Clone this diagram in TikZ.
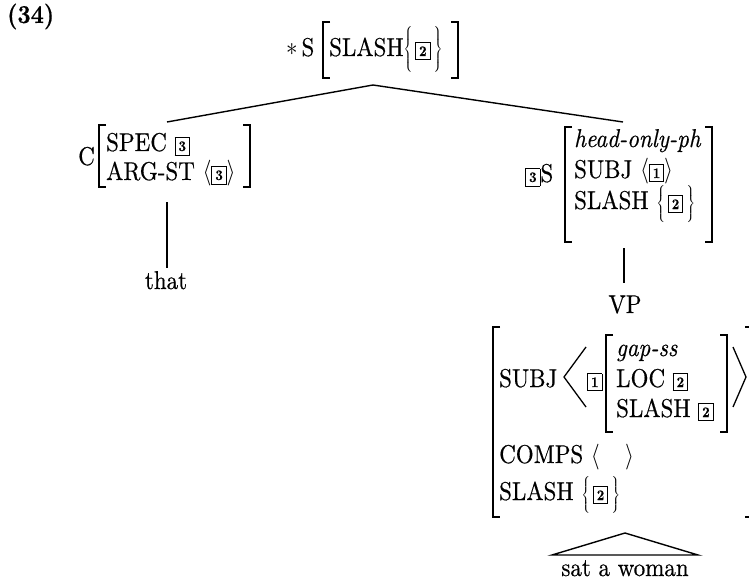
\RequirePackage{fix-cm}
\documentclass[tikz,border=0pt]{standalone}
\usepackage{graphicx}
\usepackage{fontspec}
\setmainfont{lmroman10-regular.otf}[BoldFont=lmroman10-bold.otf, ItalicFont=lmroman10-italic.otf, FakeBold=0.5]
% labels are set slightly tall
\newcommand{\tl}[1]{\scalebox{1}[1.12]{#1}}
% boxed structure-sharing tag
\newcommand{\tg}[1]{{\setlength{\fboxsep}{3pt}\setlength{\fboxrule}{0.9pt}\fbox{\fontsize{13}{13}\selectfont\bfseries #1}}}
% one large brace, squeezed vertically by the factor given
\newcommand{\brc}[2]{\scalebox{1}[#1]{$\left#2\vcenter{\hbox{\rule{0pt}{42pt}}}\right.$}}
\newcommand{\brcr}[2]{\scalebox{1}[#1]{$\left.\vcenter{\hbox{\rule{0pt}{42pt}}}\right#2$}}
% a set: braces around the content
\newcommand{\setof}[2][1]{\brc{#1}{\{}\hspace{1.5pt}#2\hspace{2pt}\brcr{#1}{\}}}
% square brackets of an attribute-value matrix: x, top y, bottom y
\newcommand{\lbr}[3]{\draw[brk] (#1+7,#2) -- (#1,#2) -- (#1,#3) -- (#1+7,#3);}
\newcommand{\rbr}[3]{\draw[brk] (#1-7,#2) -- (#1,#2) -- (#1,#3) -- (#1-7,#3);}
\begin{document}
\begin{tikzpicture}[x=1pt,y=-1pt,
  every node/.style={font=\fontsize{23}{28}\selectfont},
  txt/.style={inner sep=0pt, anchor=base west},
  ctr/.style={inner sep=0pt, anchor=base},
  brk/.style={line width=1.8pt, line join=miter},
  branch/.style={line width=1.4pt},
  angl/.style={line width=1.3pt, line join=miter}]
\useasboundingbox (0,0) rectangle (749,580);

% example number
\node[txt] (num) at (7,23) {\tl{\textbf{(34)}}};

% mother node
\node[txt] (topcat) at (286,56) {\tl{$*$\,S}};
\lbr{323}{22}{78}
\node[txt] (topslash) at (329,56) {\tl{SLASH\setof[0.98]{\tg{2}}}};
\rbr{458}{22}{78}

% complementizer
\node[txt] (ccat) at (78,165) {\tl{C}};
\lbr{99}{125}{187}
\node[txt] (spec) at (106,151) {\tl{SPEC \tg{3}}};
\node[txt] (argst) at (106,180) {\tl{ARG-ST $\langle$\tg{3}$\rangle$}};
\rbr{250}{125}{187}
\node[ctr] (that) at (166,289) {\tl{that}};

% head-only sentence
\node[txt] (stag) at (525,182) {\tl{\tg{3}S}};
\lbr{565}{127}{242}
\node[txt] (hop) at (574,147) {\tl{\textit{head-only-ph}}};
\node[txt] (ssubj) at (574,178) {\tl{SUBJ $\langle$\tg{1}$\rangle$}};
\node[txt] (sslash) at (574,209) {\tl{SLASH \setof[0.8]{\tg{2}}}};
\rbr{712}{127}{242}

% verb phrase
\node[ctr] (vp) at (625,313) {\tl{VP}};
\lbr{493}{327}{517}
\node[txt] (vsubj) at (499,387) {\tl{SUBJ}};
\draw[angl] (586,347) -- (564,377) -- (586,407);
\node[txt] (vtag) at (587,387) {\tl{\tg{1}}};
\lbr{606}{335}{432}
\node[txt] (gap) at (616,356) {\tl{\textit{gap-ss}}};
\node[txt] (loc) at (616,387) {\tl{LOC \tg{2}}};
\node[txt] (gslash) at (616,417) {\tl{SLASH \tg{2}}};
\rbr{727}{335}{432}
\draw[angl] (733,347) -- (746,377) -- (733,407);
\node[txt] (comps) at (499,463) {\tl{COMPS $\langle\hspace{1.1em}\rangle$}};
\node[txt] (vslash) at (499,500) {\tl{SLASH \setof[0.78]{\tg{2}}}};
\rbr{752}{327}{517}
\node[ctr] (leaf) at (625,576) {\tl{sat a woman}};

% attachment points of the branches
\coordinate (apex) at (373,85);
\coordinate (cTop) at (167,122);
\coordinate (sTop) at (623,122);
\coordinate (cBot) at (167,202);
\coordinate (thatTop) at (167,268);
\coordinate (sBot) at (624,248);
\coordinate (vpTop) at (624,283);
\coordinate (triTop) at (625,533);
\coordinate (triL) at (552,555);
\coordinate (triR) at (698,555);

% branches
\draw[branch] (apex) -- (cTop);
\draw[branch] (apex) -- (sTop);
\draw[branch] (cBot) -- (thatTop);
\draw[branch] (sBot) -- (vpTop);
\draw[branch] (triTop) -- (triL) -- (triR) -- cycle;
\end{tikzpicture}
\end{document}
